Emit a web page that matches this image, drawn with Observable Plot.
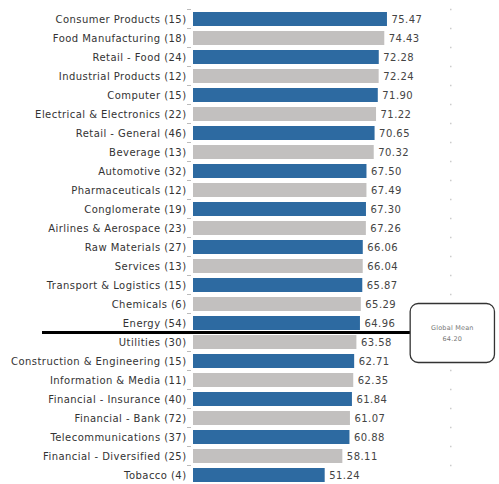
<!DOCTYPE html>
<html>
<head>
<meta charset="utf-8">
<script src="https://cdn.jsdelivr.net/npm/d3@7"></script>
<script src="https://cdn.jsdelivr.net/npm/@observablehq/plot@0.6"></script>
<style>
  html, body { margin: 0; padding: 0; background: #fff; }
</style>
</head>
<body>
<div id="chart"></div>
<script>
const categories = ["Consumer Products (15)", "Food Manufacturing (18)", "Retail - Food (24)", "Industrial Products (12)", "Computer (15)", "Electrical & Electronics (22)", "Retail - General (46)", "Beverage (13)", "Automotive (32)", "Pharmaceuticals (12)", "Conglomerate (19)", "Airlines & Aerospace (23)", "Raw Materials (27)", "Services (13)", "Transport & Logistics (15)", "Chemicals (6)", "Energy (54)", "Utilities (30)", "Construction & Engineering (15)", "Information & Media (11)", "Financial - Insurance (40)", "Financial - Bank (72)", "Telecommunications (37)", "Financial - Diversified (25)", "Tobacco (4)"];
const values = [75.47, 74.43, 72.28, 72.24, 71.90, 71.22, 70.65, 70.32, 67.50, 67.49, 67.30, 67.26, 66.06, 66.04, 65.87, 65.29, 64.96, 63.58, 62.71, 62.35, 61.84, 61.07, 60.88, 58.11, 51.24];
const globalMean = 64.20;
const meanLabel = "Global Mean";
const palette = ["#2d6aa1", "#c2c0bf"];

const data = categories.map((c, i) => ({cat: c, value: values[i], color: palette[i % 2]}));

const plot = Plot.plot({
  width: 499,
  height: 484,
  marginLeft: 193,
  marginRight: 49,
  marginTop: 10,
  marginBottom: 0,
  x: {domain: [0, 100], axis: null},
  y: {domain: categories, paddingInner: 0.26, paddingOuter: 0.077, axis: null},
  style: {fontFamily: "'DejaVu Sans', Verdana, sans-serif", fontSize: "10px", letterSpacing: "0.45px", background: "white", color: "#333"},
  marks: [
    Plot.barX(data, {x: "value", y: "cat", fill: "color"}),
    Plot.text(data, {x: "value", y: "cat", text: d => d.value.toFixed(2), textAnchor: "start", dx: 4, fill: "#444"}),
    Plot.axisY({tickSize: 0, tickPadding: 7, fill: "#333", label: null})
  ]
});

document.getElementById("chart").appendChild(plot);

// Overlay annotations derived from the plot's scales
const xs = plot.scale("x");
const ys = plot.scale("y");
const gap = ys.step - ys.bandwidth;
const svg = d3.select(plot);

// small tick marks at band boundaries (left axis and right dotted guide)
const g = svg.append("g");
categories.forEach(c => {
  const yb = ys.apply(c) - gap / 2;
  g.append("line").attr("x1", xs.apply(0) - 6).attr("x2", xs.apply(0) - 2)
    .attr("y1", yb).attr("y2", yb).attr("stroke", "#bbb").attr("stroke-width", 1);
  g.append("line").attr("x1", xs.apply(100)).attr("x2", xs.apply(100) + 1.5)
    .attr("y1", yb).attr("y2", yb).attr("stroke", "#ccc").attr("stroke-width", 1.5);
});

// Global mean line between last bar above mean and first below
let idx = 0;
values.forEach((v, i) => { if (v >= globalMean) idx = i; });
const yMean = ys.apply(categories[idx]) + ys.bandwidth + gap / 2;
const boxX1 = xs.apply(84.5), boxX2 = xs.apply(117.3);
svg.append("line")
  .attr("x1", 42).attr("x2", boxX1)
  .attr("y1", yMean).attr("y2", yMean)
  .attr("stroke", "#000").attr("stroke-width", 3);
svg.append("rect")
  .attr("x", boxX1).attr("y", yMean - 29)
  .attr("width", boxX2 - boxX1).attr("height", 59)
  .attr("rx", 8).attr("ry", 8)
  .attr("fill", "#fff").attr("stroke", "#333").attr("stroke-width", 1.3);
svg.append("text")
  .attr("x", (boxX1 + boxX2) / 2).attr("y", yMean - 3)
  .attr("text-anchor", "middle").attr("font-size", "6.5px").attr("letter-spacing", "0.2px").attr("fill", "#777")
  .text(meanLabel);
svg.append("text")
  .attr("x", (boxX1 + boxX2) / 2).attr("y", yMean + 8)
  .attr("text-anchor", "middle").attr("font-size", "6.5px").attr("letter-spacing", "0.2px").attr("fill", "#777")
  .text(globalMean.toFixed(2));
</script>
</body>
</html>
